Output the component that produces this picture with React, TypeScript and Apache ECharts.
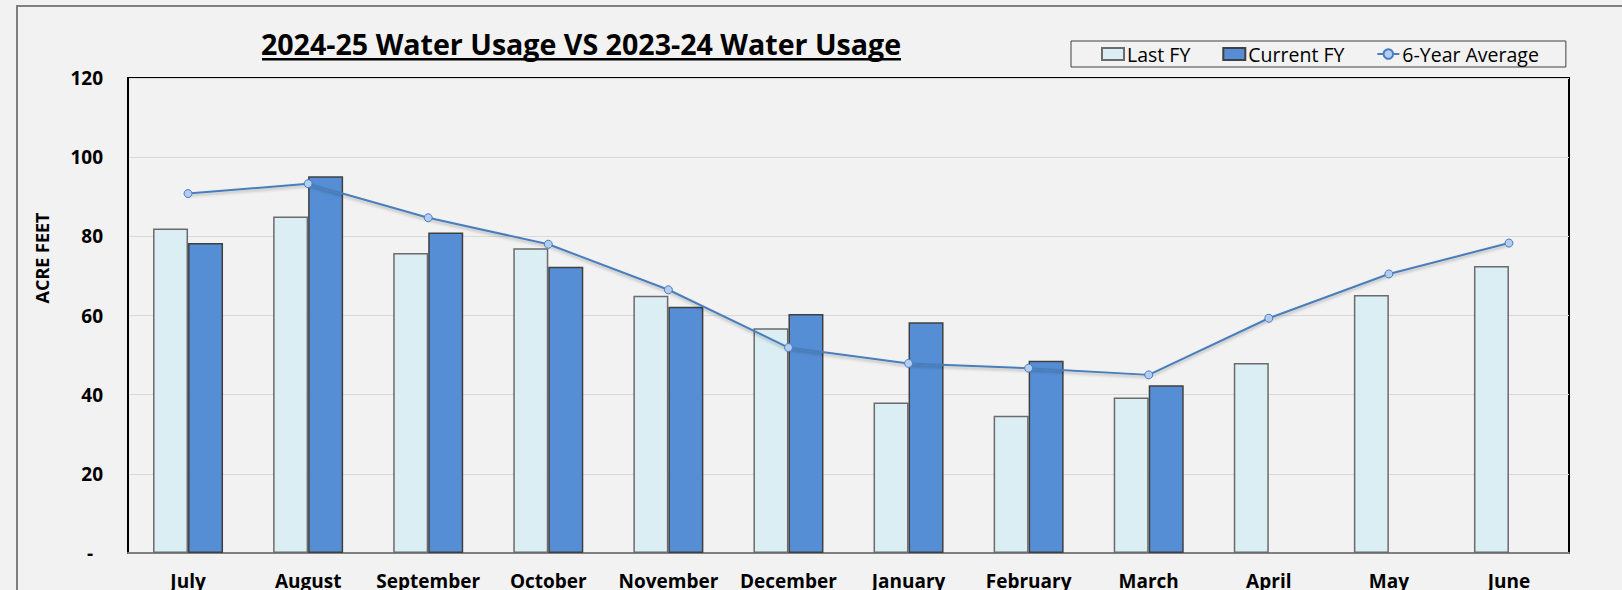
import React, { useEffect, useRef } from "react";
import * as echarts from "echarts";

const months = ["July", "August", "September", "October", "November", "December", "January", "February", "March", "April", "May", "June"];
const lastFY = [82.0, 85.0, 75.8, 77.0, 65.0, 56.8, 38.0, 34.7, 39.3, 48.0, 65.2, 72.5];
const currentFY = [78.3, 95.2, 81.0, 72.3, 62.2, 60.4, 58.3, 48.6, 42.4, null, null, null];
const sixYearAvg = [90.8, 93.3, 84.7, 78.0, 66.5, 51.9, 47.9, 46.7, 45.0, 59.3, 70.5, 78.3];
const yTicks = { min: 0, max: 120, interval: 20 };

const FONT = '"Open Sans", "Noto Sans", sans-serif';

export default function App() {
  const ref = useRef<HTMLDivElement>(null);
  useEffect(() => {
    if (!ref.current) return;
    const chart = echarts.init(ref.current, null, { renderer: "svg" });
    chart.setOption({
      animation: false,
      backgroundColor: "#F2F2F2",
      textStyle: { fontFamily: FONT },
      grid: {
        left: 128,
        top: 78,
        right: 53,
        bottom: 37,
        show: true,
        borderColor: "#000",
        borderWidth: 2,
        backgroundColor: "transparent",
      },
      legend: {
        left: 1071,
        top: 41,
        padding: [3, 27, 3, 30],
        borderColor: "#404040",
        borderWidth: 1,
        itemWidth: 22,
        itemHeight: 12,
        itemGap: 32,
        textStyle: { fontSize: 19.5, color: "#000", fontFamily: FONT, padding: [0, 0, 0, -2] },
        data: [
          { name: "Last FY", icon: "rect" },
          { name: "Current FY", icon: "rect" },
          { name: "6-Year Average" },
        ],
      },
      xAxis: {
        type: "category",
        data: months,
        axisTick: { show: false },
        axisLine: { show: true, lineStyle: { color: "#808080", width: 2 } },
        axisLabel: { interval: 0, margin: 18, fontSize: 19, fontWeight: "bold", color: "#000", fontFamily: FONT },
        splitLine: { show: false },
      },
      yAxis: {
        type: "value",
        min: yTicks.min,
        max: yTicks.max,
        interval: yTicks.interval,
        axisLine: { show: true, lineStyle: { color: "#000", width: 2 } },
        axisTick: { show: false },
        axisLabel: {
          margin: 25,
          fontSize: 19,
          fontWeight: "bold",
          color: "#000",
          fontFamily: FONT,
          formatter: (v: number) => (v === 0 ? "{z|-}" : String(v)),
          rich: { z: { fontSize: 19, fontWeight: "bold", color: "#000", fontFamily: FONT, padding: [0, 10, 0, 0] } },
        },
        splitLine: { show: true, lineStyle: { color: "#D9D9D9", width: 1 } },
      },
      series: [
        {
          name: "Last FY",
          type: "bar",
          data: lastFY,
          barWidth: 35,
          barGap: "0%",
          itemStyle: { color: "#DAEEF3", borderColor: "#6B6B6B", borderWidth: 1.5 },
        },
        {
          name: "Current FY",
          type: "bar",
          data: currentFY,
          barWidth: 35,
          barGap: "0%",
          itemStyle: { color: "#558ED5", borderColor: "#404040", borderWidth: 1.5 },
        },
        {
          name: "6-Year Average",
          type: "line",
          data: sixYearAvg,
          symbol: "circle",
          symbolSize: 8,
          z: 5,
          lineStyle: { color: "#4A7EBB", width: 2, shadowColor: "rgba(0,0,0,0.25)", shadowBlur: 3, shadowOffsetY: 2 },
          itemStyle: { color: "#B3CDF2", borderColor: "#4A7EBB", borderWidth: 1 },
        },
      ],
      graphic: [
        {
          type: "rect",
          z: -1,
          silent: true,
          shape: { x: 17, y: 6, width: 1700, height: 700 },
          style: { fill: "none", stroke: "#808080", lineWidth: 2 },
        },
        {
          type: "text",
          x: 581,
          y: 43,
          style: {
            text: "2024-25 Water Usage VS 2023-24 Water Usage",
            font: 'bold 28.6px "Open Sans", sans-serif',
            fill: "#000",
            textAlign: "center",
            textVerticalAlign: "middle",
          },
        },
        {
          type: "rect",
          shape: { x: 262, y: 58, width: 639, height: 2.5 },
          style: { fill: "#000" },
        },
        {
          type: "text",
          x: 42,
          y: 258,
          rotation: Math.PI / 2,
          style: {
            text: "ACRE FEET",
            font: 'bold 18px "Open Sans", sans-serif',
            fill: "#000",
            textAlign: "center",
            textVerticalAlign: "middle",
          },
        },
      ],
    });
    return () => chart.dispose();
  }, []);
  return (
    <div
      ref={ref}
      style={{ position: "absolute", left: 0, top: 0, width: 1622, height: 590 }}
    />
  );
}
